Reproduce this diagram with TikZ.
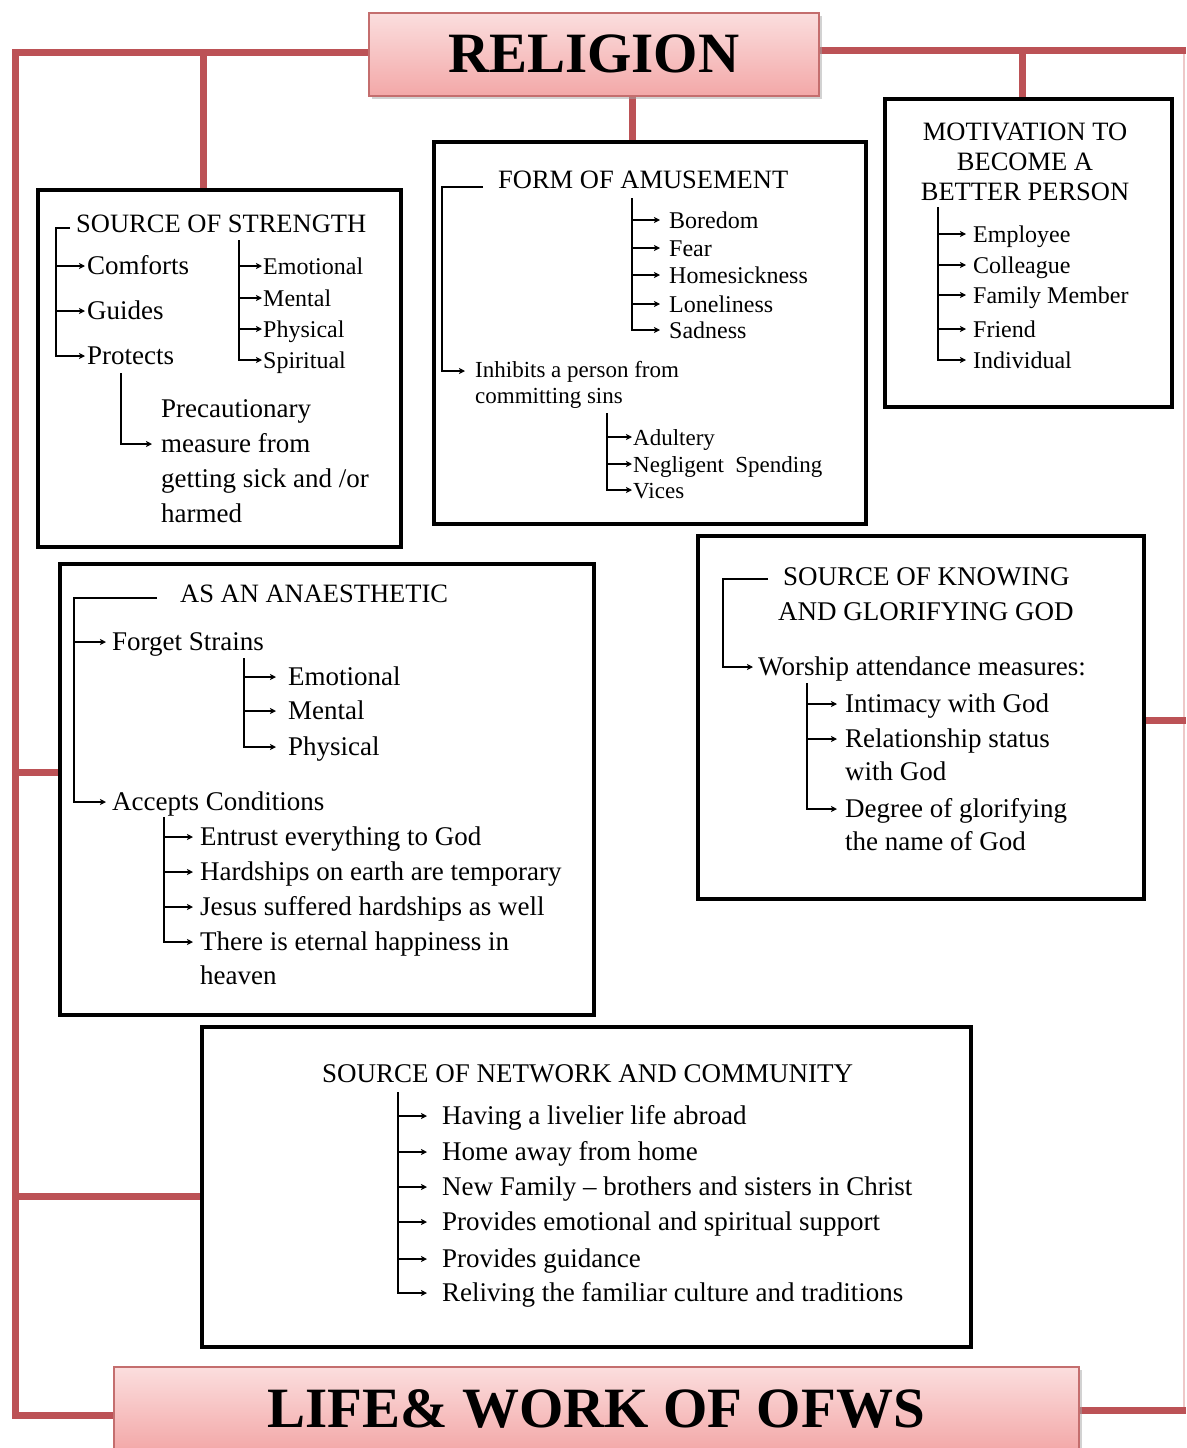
\documentclass[tikz,border=0pt]{standalone}
\usepackage{fontspec}
\setmainfont{Liberation Serif}
\usetikzlibrary{arrows.meta,shadows}
\pgfdeclarelayer{paper}
\pgfdeclarelayer{links}
\pgfsetlayers{paper,links,main}
\definecolor{redline}{RGB}{188,82,86}
\definecolor{pinktop}{RGB}{251,222,222}
\definecolor{pinkbot}{RGB}{243,168,168}
\definecolor{pinkedge}{RGB}{196,110,110}
\definecolor{palered}{RGB}{238,200,200}
\newcommand\ar[3]{\draw[arr] ([yshift=8pt]#1 |- #2.base) -- ([yshift=8pt,xshift=-#3pt]#2.base west);}
\newcommand\arl[3]{\draw[arr] (#1) |- ([yshift=8pt,xshift=-#3pt]#2.base west);}
\begin{document}
\begin{tikzpicture}[x=1pt,y=-1pt,
  rl/.style={draw=redline,line width=7pt,line join=miter},
  thinred/.style={draw=palered,line width=2pt},
  box/.style={draw=black,line width=4pt,fill=white,inner sep=0pt,anchor=north west,
     drop shadow={shadow xshift=2pt,shadow yshift=-2pt,fill=black!30}},
  title/.style={draw=pinkedge,line width=1.5pt,top color=pinktop,bottom color=pinkbot,
     inner sep=0pt,anchor=north west,font=\fontsize{57}{60}\selectfont\bfseries,
     drop shadow={shadow xshift=3pt,shadow yshift=-3pt,fill=black!35}},
  hd/.style={anchor=base west,inner sep=0pt,font=\fontsize{26.5}{30}\selectfont},
  it/.style={anchor=base west,inner sep=0pt,font=\fontsize{27}{32}\selectfont},
  its/.style={anchor=base west,inner sep=0pt,font=\fontsize{24}{28}\selectfont},
  itm/.style={anchor=base west,inner sep=0pt,font=\fontsize{23}{27}\selectfont},
  arr/.style={line width=1.4pt,-{Stealth[length=6pt,width=6pt,inset=1.5pt]}}]
\useasboundingbox (0,0) rectangle (1186,1448);
\begin{pgfonlayer}{paper}
\fill[white] (0,0) rectangle (1186,1448);
\end{pgfonlayer}

% ---------- title boxes ----------
\node[title,minimum width=450pt,minimum height=83pt] (rel) at (368,12) {RELIGION};
\node[title,minimum width=965pt,minimum height=84pt] (life) at (113,1366) {LIFE\& WORK OF OFWS};

% ---------- content boxes ----------
\node[box,minimum width=363pt,minimum height=357pt] (str) at (36,188) {};
\node[box,minimum width=432pt,minimum height=382pt] (amu) at (432,140) {};
\node[box,minimum width=287pt,minimum height=308pt] (mot) at (883,97) {};
\node[box,minimum width=534pt,minimum height=451pt] (ana) at (58,562) {};
\node[box,minimum width=446pt,minimum height=363pt] (kno) at (696,534) {};
\node[box,minimum width=769pt,minimum height=320pt] (net) at (200,1025) {};

% ---------- red connectors ----------
\coordinate (lx) at (15,52);
\coordinate (lb) at (15,1415);
\coordinate (j1) at (203,52);
\coordinate (j2) at (632,95);
\coordinate (rx) at (1186,50);
\coordinate (j3) at (1022,50);
\coordinate (j4) at (15,772);
\coordinate (j5) at (15,1196);
\coordinate (j6) at (1186,720);
\coordinate (j7) at (1186,1410);
\begin{pgfonlayer}{links}
\draw[thinred] ([xshift=-2pt]rx) -- ([xshift=-2pt]j7);
\draw[rl] (rel.west |- lx) -- (lx) -- (lb) -- (lb -| life.west);
\draw[rl] (j1) -- (j1 |- str.north);
\draw[rl] (j2 |- rel.south) -- (j2 |- amu.north);
\draw[rl] (rel.east |- rx) -- (rx);
\draw[rl] (j3) -- (j3 |- mot.north);
\draw[rl] (j4) -- (j4 -| ana.west);
\draw[rl] (j5) -- (j5 -| net.west);
\draw[rl] (j6 -| kno.east) -- (j6);
\draw[rl] (life.east |- j7) -- (j7);
\end{pgfonlayer}

% ---------- SOURCE OF STRENGTH ----------
\node[hd] (strh) at (76,232) {SOURCE OF STRENGTH};
\coordinate (sAd) at (70,228);
\coordinate (sA) at (56,228);
\node[it] (cmf) at (87,274) {Comforts};
\node[it] (gui) at (87,319) {Guides};
\node[it] (pro) at (87,364) {Protects};
\ar{sA}{cmf}{2}
\ar{sA}{gui}{2}
\draw[arr] (sAd) -- (sA) |- ([yshift=8pt,xshift=-2pt]pro.base west);
\coordinate (sB) at (239,240);
\node[its] (sEm) at (263,274) {Emotional};
\node[its] (sMe) at (263,306) {Mental};
\node[its] (sPh) at (263,337) {Physical};
\node[its] (sSp) at (263,368) {Spiritual};
\ar{sB}{sEm}{1}
\ar{sB}{sMe}{1}
\ar{sB}{sPh}{1}
\arl{sB}{sSp}{1}
\coordinate (sC) at (121,373);
\node[it] (pre1) at (161,417) {Precautionary};
\node[it] (pre2) at (161,452) {measure from};
\node[it] (pre3) at (161,487) {getting sick and /or};
\node[it] (pre4) at (161,522) {harmed};
\arl{sC}{pre2}{9}

% ---------- FORM OF AMUSEMENT ----------
\node[hd] (amuh) at (498,188) {FORM OF AMUSEMENT};
\coordinate (aAd) at (483,187);
\coordinate (aA) at (442,187);
\node[itm] (inh1) at (475,377) {Inhibits a person from};
\node[itm] (inh2) at (475,403) {committing sins};
\draw[arr] (aAd) -- (aA) |- ([yshift=6pt,xshift=-10pt]inh1.base west);
\coordinate (aB) at (632,198);
\node[its] (aBo) at (669,228) {Boredom};
\node[its] (aFe) at (669,256) {Fear};
\node[its] (aHo) at (669,283) {Homesickness};
\node[its] (aLo) at (669,312) {Loneliness};
\node[its] (aSa) at (669,338) {Sadness};
\ar{aB}{aBo}{9}
\ar{aB}{aFe}{9}
\ar{aB}{aHo}{9}
\ar{aB}{aLo}{9}
\arl{aB}{aSa}{9}
\coordinate (aC) at (607,413);
\node[itm] (aAdu) at (633,445) {Adultery};
\node[itm] (aNeg) at (633,472) {Negligent\ \ Spending};
\node[itm] (aVic) at (633,498) {Vices};
\ar{aC}{aAdu}{1}
\ar{aC}{aNeg}{1}
\arl{aC}{aVic}{1}

% ---------- MOTIVATION ----------
\node[hd,anchor=base] (mot1) at (1025,140) {MOTIVATION TO};
\node[hd,anchor=base] (mot2) at (1025,170) {BECOME A};
\node[hd,anchor=base] (mot3) at (1025,200) {BETTER PERSON};
\coordinate (mA) at (938,207);
\node[its] (mEm) at (973,242) {Employee};
\node[its] (mCo) at (973,273) {Colleague};
\node[its] (mFa) at (973,303) {Family Member};
\node[its] (mFr) at (973,337) {Friend};
\node[its] (mIn) at (973,368) {Individual};
\ar{mA}{mEm}{7}
\ar{mA}{mCo}{7}
\ar{mA}{mFa}{7}
\ar{mA}{mFr}{7}
\arl{mA}{mIn}{7}

% ---------- AS AN ANAESTHETIC ----------
\node[hd] (anah) at (180,602) {AS AN ANAESTHETIC};
\coordinate (nAd) at (157,598);
\coordinate (nA) at (74,598);
\node[it] (nFo) at (112,650) {Forget Strains};
\node[it] (nAc) at (112,810) {Accepts Conditions};
\ar{nA}{nFo}{6}
\draw[arr] (nAd) -- (nA) |- ([yshift=8pt,xshift=-6pt]nAc.base west);
\coordinate (nB) at (244,658);
\node[it] (nEm) at (288,685) {Emotional};
\node[it] (nMe) at (288,719) {Mental};
\node[it] (nPh) at (288,755) {Physical};
\ar{nB}{nEm}{12}
\ar{nB}{nMe}{12}
\arl{nB}{nPh}{12}
\coordinate (nC) at (164,817);
\node[it] (nEn) at (200,845) {Entrust everything to God};
\node[it] (nHa) at (200,880) {Hardships on earth are temporary};
\node[it] (nJe) at (200,915) {Jesus suffered hardships as well};
\node[it] (nTh) at (200,950) {There is eternal happiness in};
\node[it] (nHe) at (200,984) {heaven};
\ar{nC}{nEn}{7}
\ar{nC}{nHa}{7}
\ar{nC}{nJe}{7}
\arl{nC}{nTh}{7}

% ---------- SOURCE OF KNOWING ----------
\node[it] (kh1) at (783,585) {SOURCE OF KNOWING};
\node[it] (kh2) at (778,620) {AND GLORIFYING GOD};
\coordinate (kAd) at (768,579);
\coordinate (kA) at (723,579);
\node[it] (kWo) at (758,675) {Worship attendance measures:};
\draw[arr] (kAd) -- (kA) |- ([yshift=8pt,xshift=-5pt]kWo.base west);
\coordinate (kB) at (807,683);
\node[it] (kIn) at (845,712) {Intimacy with God};
\node[it] (kRe) at (845,747) {Relationship status};
\node[it] (kRe2) at (845,780) {with God};
\node[it] (kDe) at (845,817) {Degree of glorifying};
\node[it] (kDe2) at (845,850) {the name of God};
\ar{kB}{kIn}{8}
\ar{kB}{kRe}{8}
\arl{kB}{kDe}{8}

% ---------- NETWORK ----------
\node[it] (neth) at (322,1082) {SOURCE OF NETWORK AND COMMUNITY};
\coordinate (wA) at (398,1092);
\node[it] (w1) at (442,1124) {Having a livelier life abroad};
\node[it] (w2) at (442,1160) {Home away from home};
\node[it] (w3) at (442,1195) {New Family – brothers and sisters in Christ};
\node[it] (w4) at (442,1230) {Provides emotional and spiritual support};
\node[it] (w5) at (442,1267) {Provides guidance};
\node[it] (w6) at (442,1301) {Reliving the familiar culture and traditions};
\ar{wA}{w1}{15}
\ar{wA}{w2}{15}
\ar{wA}{w3}{15}
\ar{wA}{w4}{15}
\ar{wA}{w5}{15}
\arl{wA}{w6}{15}
\end{tikzpicture}
\end{document}
